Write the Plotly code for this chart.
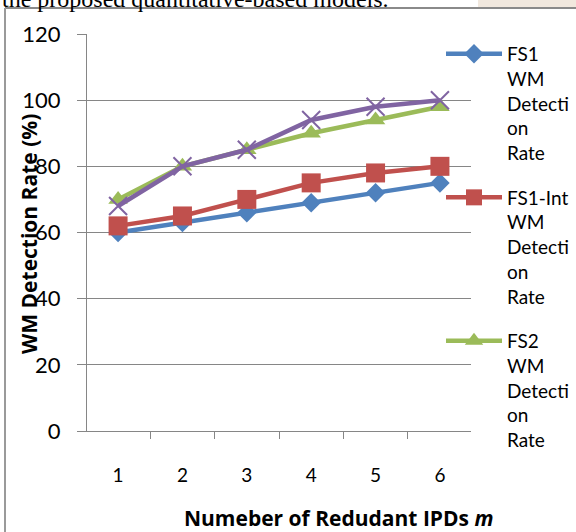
import plotly.graph_objects as go

categories = ["1", "2", "3", "4", "5", "6"]
fs1 = [60, 63, 66, 69, 72, 75]
fs1_int = [62, 65, 70, 75, 78, 80]
fs2 = [70, 80, 85, 90, 94, 98]
fs2_int = [68, 80, 85, 94, 98, 100]

names = [
    "FS1<br>WM<br>Detecti<br>on<br>Rate",
    "FS1-Int<br>WM<br>Detecti<br>on<br>Rate",
    "FS2<br>WM<br>Detecti<br>on<br>Rate",
    "FS2-Int<br>WM<br>Detecti<br>on<br>Rate",
]
colors = ["#4F81BD", "#C0504D", "#9BBB59", "#8064A2"]
symbols = ["diamond", "square", "triangle-up", "x-thin"]
sizes = [15, 19, 17, 18]
series = [fs1, fs1_int, fs2, fs2_int]

FONT = "Lato, 'Open Sans', sans-serif"
TFONT = "'Open Sans', Lato, sans-serif"

fig = go.Figure()
for i, (vals, name, col, sym, sz) in enumerate(zip(series, names, colors, symbols, sizes)):
    fig.add_trace(go.Scatter(
        x=categories, y=vals, name=name, mode="lines+markers",
        line=dict(color=col, width=4.5),
        marker=dict(symbol=sym, size=sz, color=col,
                    line=dict(color=col, width=2 if sym == "x-thin" else 0)),
        legendgroup=f"g{i}",
        showlegend=(i < 3),
    ))

grid = "#868686"
fig.update_layout(
    width=576, height=532,
    margin=dict(l=87, r=105, t=34, b=101, autoexpand=False),
    paper_bgcolor="white", plot_bgcolor="white",
    font=dict(family=FONT, color="black"),
    xaxis=dict(type="category", categoryorder="array", categoryarray=categories,
               tickson="boundaries", ticks="outside", ticklen=7, tickcolor=grid,
               tickwidth=1.3, showgrid=False, showline=True, linecolor=grid,
               linewidth=1.3, tickfont=dict(size=19, family=FONT),
               ticklabelstandoff=27),
    yaxis=dict(range=[0, 120], dtick=20, ticks="outside", ticklen=9, tickcolor=grid,
               tickwidth=1.3, showgrid=True, gridcolor=grid, gridwidth=1.3,
               showline=True, linecolor=grid, linewidth=1.3, zeroline=False,
               tickfont=dict(size=22, family=FONT), ticklabelstandoff=12),
    legend=dict(xref="container", yref="container", x=441/576, y=1-35/532,
                xanchor="left", yanchor="top", valign="top",
                font=dict(size=19, family=FONT), tracegroupgap=17,
                bgcolor="rgba(0,0,0,0)", itemwidth=56, maxheight=520),
    showlegend=True,
)

px0, pw = 87, 384
py0, ph = 431, 397
def xp(p):
    return (p - px0) / pw
def yp(p):
    return (py0 - p) / ph

# beige background at top right (page behind the chart)
fig.add_shape(type="rect", xref="paper", yref="paper", x0=xp(478), x1=xp(580),
              y0=yp(8), y1=yp(-2), fillcolor="#F1E8DE", line=dict(width=0), layer="below")
# chart border (top and left)
fig.add_shape(type="line", xref="paper", yref="paper", x0=xp(5), x1=xp(580),
              y0=yp(8), y1=yp(8), line=dict(color="#8A8A8A", width=2))
fig.add_shape(type="line", xref="paper", yref="paper", x0=xp(5), x1=xp(5),
              y0=yp(8), y1=yp(540), line=dict(color="#9A9A9A", width=2))

# axis titles
fig.add_annotation(xref="paper", yref="paper", x=xp(29), y=yp(234), textangle=-90,
                   xanchor="center", yanchor="middle",
                   text="<b>WM Detection Rate (%)</b>", showarrow=False,
                   font=dict(size=21, family=TFONT, color="black"))
fig.add_annotation(xref="paper", yref="paper", x=xp(338), y=yp(518),
                   xanchor="center", yanchor="middle",
                   text="<b>Numeber of Redudant IPDs <i>m</i></b>", showarrow=False,
                   font=dict(size=21, family=TFONT, color="black"))
# partially visible caption text from the page above
fig.add_annotation(xref="paper", yref="paper", x=xp(0), y=yp(-16), xanchor="left",
                   yanchor="top",
                   text="the proposed quantitative-based models.", showarrow=False,
                   font=dict(size=24, family="'Liberation Serif', serif", color="black"))

fig.write_html("out.html")
